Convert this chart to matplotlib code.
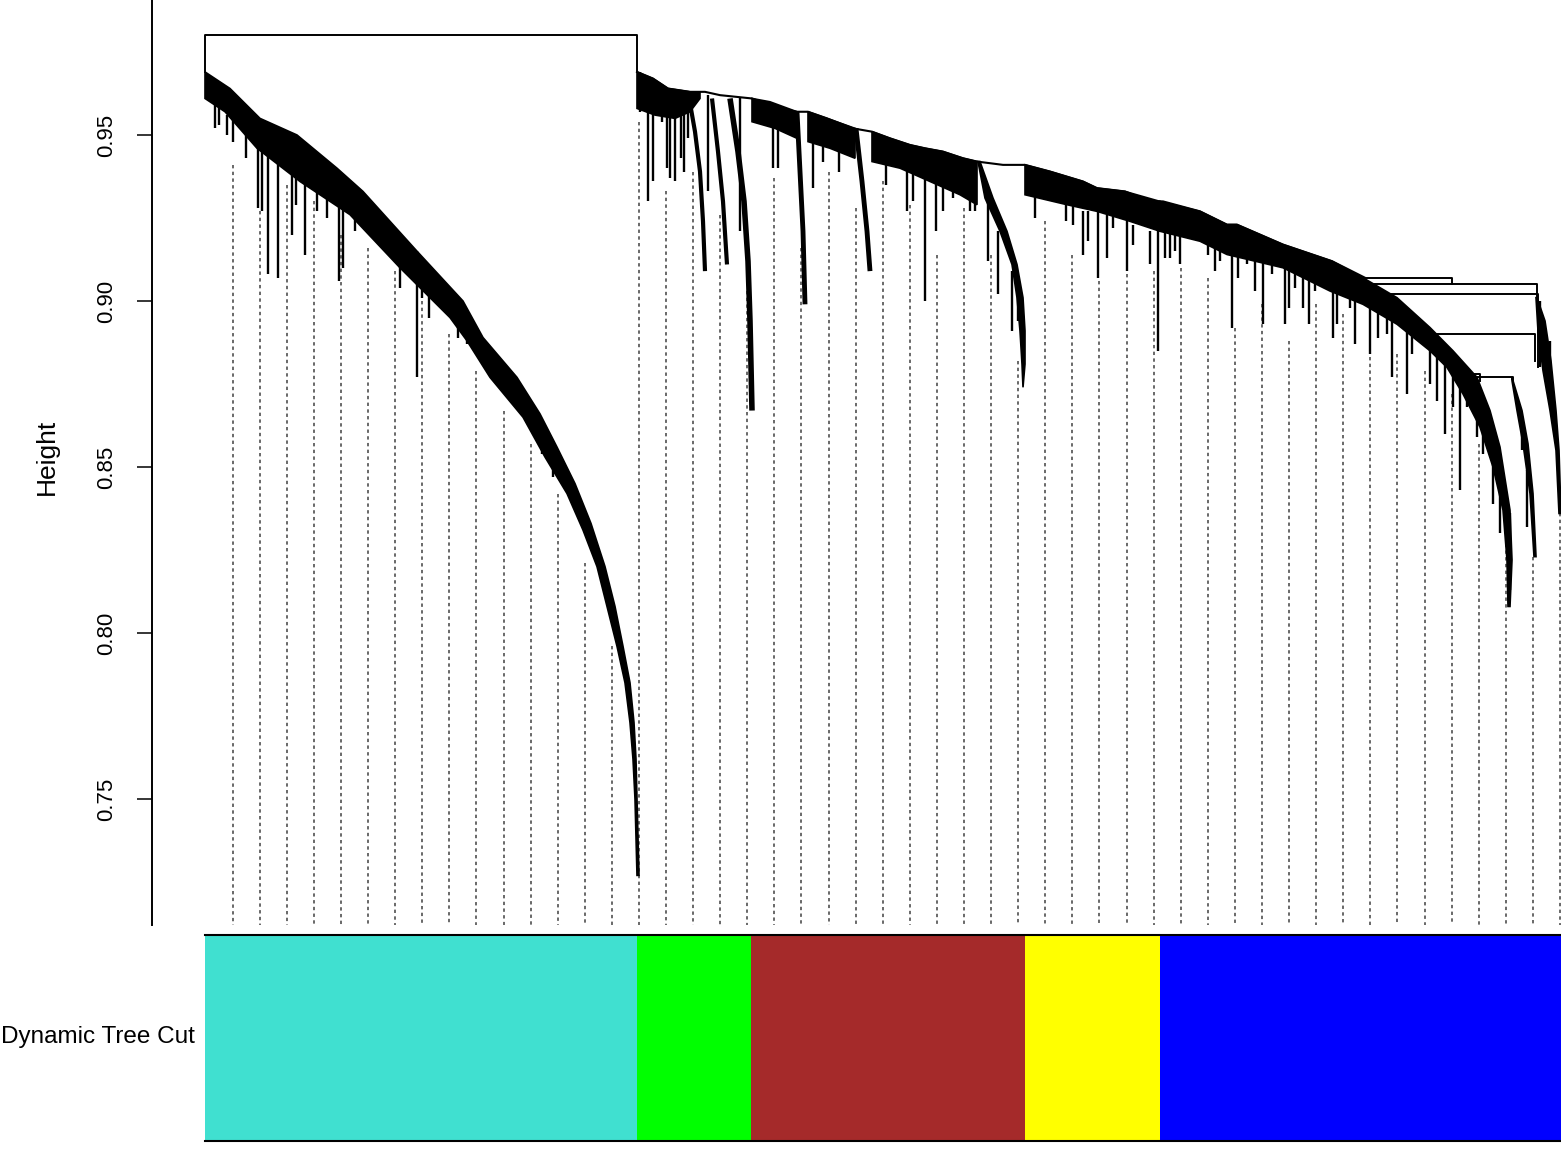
import matplotlib.pyplot as plt

plt.rcParams['font.family'] = ['Liberation Sans', 'DejaVu Sans']

# ---- data ----------------------------------------------------------------
# x = leaf order position (0 .. 1356), y = merge height

module_colors = ["#40E0D0", "#00FF00", "#A52A2A", "#FFFF00", "#0000FF"]
module_edges = [0, 432, 546, 820, 955, 1356]

height_ticks = [0.75, 0.80, 0.85, 0.90, 0.95]

# dense merge "bands": top edge left->right, bottom edge right->left
turq_top_x = [0, 25, 45, 55, 92, 132, 158, 212, 258, 278, 312, 335, 352, 370, 386, 400, 410, 418, 425, 429, 431, 432, 434]
turq_top_h = [0.969, 0.964, 0.958, 0.955, 0.950, 0.940, 0.933, 0.915, 0.900, 0.889, 0.877, 0.866, 0.856, 0.845, 0.833, 0.820, 0.808, 0.796, 0.785, 0.773, 0.762, 0.750, 0.727]
turq_bot_x = [432, 430, 428, 425, 420, 412, 402, 392, 378, 362, 340, 318, 285, 262, 245, 195, 145, 95, 52, 20, 0]
turq_bot_h = [0.727, 0.750, 0.762, 0.773, 0.785, 0.796, 0.808, 0.820, 0.831, 0.842, 0.853, 0.865, 0.877, 0.888, 0.895, 0.910, 0.926, 0.936, 0.946, 0.957, 0.961]

green_top_x = [432, 440, 448, 463, 485, 495]
green_top_h = [0.969, 0.968, 0.967, 0.964, 0.963, 0.963]
green_bot_x = [495, 485, 470, 450, 432]
green_bot_h = [0.961, 0.957, 0.955, 0.956, 0.958]

brown1_top_x = [547, 565, 592]
brown1_top_h = [0.961, 0.960, 0.957]
brown1_bot_x = [592, 570, 547]
brown1_bot_h = [0.949, 0.952, 0.954]

brown2_top_x = [603, 622, 650]
brown2_top_h = [0.957, 0.955, 0.952]
brown2_bot_x = [650, 625, 603]
brown2_bot_h = [0.943, 0.946, 0.948]

brown3_top_x = [667, 685, 705, 720, 738, 758, 772]
brown3_top_h = [0.951, 0.949, 0.947, 0.946, 0.945, 0.943, 0.942]
brown3_bot_x = [772, 755, 725, 695, 667]
brown3_bot_h = [0.929, 0.932, 0.936, 0.940, 0.942]

brown_tail_top_x = [773, 780, 795, 807, 812, 815, 817, 818]
brown_tail_top_h = [0.942, 0.931, 0.921, 0.911, 0.901, 0.891, 0.881, 0.874]
brown_tail_bot_x = [820, 820, 818, 812, 802, 788, 775]
brown_tail_bot_h = [0.881, 0.891, 0.901, 0.911, 0.921, 0.931, 0.942]

yellow_top_x = [820, 845, 878, 892, 920, 955]
yellow_top_h = [0.941, 0.939, 0.936, 0.934, 0.933, 0.930]
yellow_bot_x = [955, 925, 892, 862, 820]
yellow_bot_h = [0.921, 0.924, 0.927, 0.929, 0.932]

blue_top_x = [955, 995, 1022, 1032, 1078, 1127, 1158, 1192, 1225, 1248, 1272, 1285, 1295, 1305, 1307, 1305]
blue_top_h = [0.930, 0.927, 0.923, 0.923, 0.917, 0.912, 0.907, 0.901, 0.892, 0.885, 0.877, 0.867, 0.856, 0.837, 0.822, 0.808]
blue_bot_x = [1303, 1302, 1298, 1288, 1275, 1258, 1242, 1225, 1192, 1158, 1125, 1078, 1022, 995, 955]
blue_bot_h = [0.808, 0.822, 0.837, 0.850, 0.862, 0.872, 0.880, 0.885, 0.893, 0.899, 0.903, 0.910, 0.914, 0.918, 0.921]

blue_tail2_top_x = [1307, 1317, 1323, 1328, 1331]
blue_tail2_top_h = [0.877, 0.867, 0.857, 0.842, 0.823]
blue_tail2_bot_x = [1329, 1325, 1318, 1312, 1307]
blue_tail2_bot_h = [0.823, 0.842, 0.857, 0.867, 0.876]

blue_right_top_x = [1332, 1340, 1346, 1351, 1354, 1356]
blue_right_top_h = [0.901, 0.894, 0.882, 0.867, 0.855, 0.836]
blue_right_bot_x = [1354, 1351, 1345, 1338, 1333, 1331]
blue_right_bot_h = [0.836, 0.855, 0.867, 0.879, 0.891, 0.901]

# staircase of merges along the top of the right-hand cluster
ridge_x = [432, 440, 448, 463, 485, 500, 515, 547, 575, 592, 603, 622, 648, 667, 685, 705, 720, 738, 758, 772,
           798, 820, 845, 878, 892, 920, 945, 958, 995, 1022, 1032, 1078, 1127, 1160]
ridge_h = [0.969, 0.968, 0.967, 0.964, 0.963, 0.963, 0.962, 0.961, 0.958, 0.957, 0.957, 0.955, 0.952, 0.951, 0.949,
           0.947, 0.946, 0.945, 0.943, 0.942, 0.941, 0.941, 0.939, 0.936, 0.934, 0.933, 0.930, 0.930, 0.927, 0.923,
           0.923, 0.917, 0.912, 0.907]

# thin hanging sub-branches (centre lines)
g1_x = [483, 490, 495, 498, 500]
g1_h = [0.963, 0.951, 0.939, 0.924, 0.909]
g2_x = [507, 513, 518, 522]
g2_h = [0.961, 0.945, 0.930, 0.911]
g3_x = [525, 533, 539, 543, 545, 547]
g3_h = [0.961, 0.945, 0.930, 0.912, 0.894, 0.867]
b1_x = [592, 595, 598, 600]
b1_h = [0.957, 0.939, 0.921, 0.899]
b2_x = [651, 657, 662, 665]
b2_h = [0.952, 0.936, 0.921, 0.909]

# single hanging leaves / small clusters
drip_x = [10, 14, 22, 28, 41, 53, 57, 63, 73, 87, 91, 100, 112, 122, 127, 134, 138, 150, 183, 195, 203, 212, 217,
          224, 253, 262, 298, 337, 348,
          435, 443, 448, 457, 462, 465, 470, 476, 479, 483, 503, 535,
          568, 573, 608, 618, 634, 681, 702, 708, 720, 731, 738, 748, 765, 770, 783, 793, 807, 813,
          830, 861, 868, 878, 883, 893, 902, 908, 922, 928, 945, 953,
          960, 965, 970, 975, 1003, 1010, 1015, 1027, 1033, 1042, 1050, 1058, 1067, 1080, 1084, 1090, 1098, 1104,
          1110, 1128, 1132, 1145, 1150, 1165, 1173, 1182, 1187, 1202, 1207, 1225, 1232, 1240, 1248, 1255, 1262,
          1272, 1278, 1288, 1295, 1305, 1317, 1322, 1335, 1345]
drip_top = [0.961, 0.961, 0.956, 0.955, 0.950, 0.954, 0.954, 0.953, 0.952, 0.949, 0.948, 0.945, 0.942, 0.941,
            0.939, 0.938, 0.937, 0.933, 0.923, 0.917, 0.915, 0.915, 0.907, 0.905, 0.894, 0.890, 0.878, 0.859, 0.852,
            0.969, 0.967, 0.966, 0.965, 0.964, 0.964, 0.964, 0.963, 0.963, 0.962, 0.962, 0.961,
            0.955, 0.955, 0.948, 0.947, 0.945, 0.942, 0.941, 0.941, 0.945, 0.938, 0.938, 0.936, 0.932, 0.932, 0.930,
            0.921, 0.909, 0.906,
            0.932, 0.929, 0.929, 0.927, 0.927, 0.933, 0.926, 0.926, 0.924, 0.923, 0.921, 0.929,
            0.924, 0.924, 0.924, 0.923, 0.918, 0.918, 0.917, 0.918, 0.915, 0.914, 0.914, 0.918, 0.912, 0.911, 0.911,
            0.911, 0.909, 0.909, 0.906, 0.905, 0.905, 0.902, 0.900, 0.900, 0.899, 0.897, 0.894, 0.891, 0.890, 0.887,
            0.885, 0.882, 0.879, 0.876, 0.873, 0.870, 0.867, 0.858, 0.849, 0.836, 0.861, 0.849, 0.900, 0.888]
drip_bot = [0.952, 0.953, 0.950, 0.948, 0.943, 0.928, 0.927, 0.908, 0.907, 0.920, 0.929, 0.914, 0.927, 0.925,
            0.931, 0.906, 0.910, 0.921, 0.916, 0.904, 0.908, 0.877, 0.901, 0.895, 0.889, 0.887, 0.874, 0.854, 0.847,
            0.957, 0.930, 0.936, 0.954, 0.940, 0.937, 0.936, 0.943, 0.939, 0.949, 0.933, 0.921,
            0.940, 0.940, 0.934, 0.942, 0.939, 0.935, 0.927, 0.930, 0.900, 0.921, 0.927, 0.931, 0.927, 0.927, 0.912,
            0.902, 0.891, 0.894,
            0.925, 0.924, 0.923, 0.914, 0.918, 0.907, 0.913, 0.922, 0.909, 0.917, 0.911, 0.885,
            0.913, 0.913, 0.915, 0.911, 0.914, 0.909, 0.912, 0.892, 0.907, 0.911, 0.903, 0.893, 0.908, 0.893, 0.898,
            0.904, 0.898, 0.893, 0.903, 0.889, 0.893, 0.898, 0.887, 0.884, 0.889, 0.890, 0.877, 0.872, 0.884, 0.875,
            0.870, 0.860, 0.868, 0.843, 0.868, 0.859, 0.854, 0.839, 0.830, 0.813, 0.855, 0.832, 0.880, 0.872]

# merge brackets: left x, right x, merge height, left leg end, right leg end
bracket_left = [0, 1160, 1165, 1185, 1225, 1262, 1265]
bracket_right = [432, 1247, 1332, 1333, 1330, 1275, 1308]
bracket_h = [0.980, 0.907, 0.905, 0.902, 0.890, 0.878, 0.877]
bracket_left_end = [0.969, 0.907, 0.905, 0.902, 0.890, 0.878, 0.877]
bracket_right_end = [0.969, 0.905, 0.901, 0.880, 0.882, 0.876, 0.876]

# dashed guide lines hanging from every n-th leaf
guide_first = 27.6
guide_step = 27.09
guide_top = [0.941, 0.927, 0.935, 0.930, 0.920, 0.916, 0.909, 0.900, 0.890, 0.879, 0.867, 0.857, 0.842, 0.821,
             0.796, 0.954, 0.933, 0.939, 0.926, 0.903, 0.937, 0.916, 0.939, 0.928, 0.936, 0.929, 0.914, 0.928,
             0.914, 0.882, 0.924, 0.914, 0.906, 0.908, 0.909, 0.910, 0.907, 0.892, 0.899, 0.888, 0.899, 0.896,
             0.883, 0.884, 0.879, 0.872, 0.857, 0.829, 0.823, 0.836]

# ---- figure ---------------------------------------------------------------
fig = plt.figure(figsize=(15.61, 11.49), dpi=100)
ax = fig.add_axes([152 / 1561, 1 - 925 / 1149, 1409 / 1561, 925 / 1149])
cax = fig.add_axes([205 / 1561, 1 - 1141 / 1149, 1356 / 1561, 206 / 1149])

y_low, y_high = 0.71205, 0.99066

# guides
for k, top in enumerate(guide_top):
    gx = guide_first + guide_step * k
    ax.plot([gx, gx], [top, y_low], color='#404040', lw=1.1, dashes=(2.2, 2.2), zorder=1)

bands = [
    (turq_top_x, turq_top_h, turq_bot_x, turq_bot_h),
    (green_top_x, green_top_h, green_bot_x, green_bot_h),
    (brown1_top_x, brown1_top_h, brown1_bot_x, brown1_bot_h),
    (brown2_top_x, brown2_top_h, brown2_bot_x, brown2_bot_h),
    (brown3_top_x, brown3_top_h, brown3_bot_x, brown3_bot_h),
    (brown_tail_top_x, brown_tail_top_h, brown_tail_bot_x, brown_tail_bot_h),
    (yellow_top_x, yellow_top_h, yellow_bot_x, yellow_bot_h),
    (blue_top_x, blue_top_h, blue_bot_x, blue_bot_h),
    (blue_tail2_top_x, blue_tail2_top_h, blue_tail2_bot_x, blue_tail2_bot_h),
    (blue_right_top_x, blue_right_top_h, blue_right_bot_x, blue_right_bot_h),
]
for tx, th, bx, bh in bands:
    ax.fill(tx + bx, th + bh, facecolor='black', edgecolor='black', lw=1.2, zorder=2)

ax.plot(ridge_x, ridge_h, color='black', lw=1.5, zorder=2)

for bx, bh, w in [(g1_x, g1_h, 3.0), (g2_x, g2_h, 3.0), (g3_x, g3_h, 4.0), (b1_x, b1_h, 3.5), (b2_x, b2_h, 3.5)]:
    ax.plot(bx, bh, color='black', lw=w, solid_capstyle='butt', zorder=2)

ax.vlines(drip_x, drip_bot, drip_top, color='black', lw=1.7, zorder=2)

for xl, xr, h, el, er in zip(bracket_left, bracket_right, bracket_h, bracket_left_end, bracket_right_end):
    ax.plot([xl, xl, xr, xr], [el, h, h, er], color='black', lw=1.4, zorder=2)

ax.set_xlim(-53, 1356)
ax.set_ylim(y_low, y_high)
for side in ['top', 'right', 'bottom']:
    ax.spines[side].set_visible(False)
ax.spines['left'].set_linewidth(1.4)
ax.set_xticks([])
ax.set_yticks(height_ticks)
ax.set_yticklabels([f"{t:.2f}" for t in height_ticks], rotation=90, va='center')
ax.tick_params(axis='y', length=11, width=1.1, pad=14, labelsize=16)

fig.text(47 / 1561, 1 - 457 / 1149, "Height", rotation=90, ha='center', va='center', fontsize=19)

# module colour bar
for i, col in enumerate(module_colors):
    cax.bar(module_edges[i], 1, width=module_edges[i + 1] - module_edges[i], bottom=0,
            align='edge', color=col, lw=0)
cax.set_xlim(0, 1356)
cax.set_ylim(0, 1)
cax.axhline(0, color='black', lw=1.5, clip_on=False)
cax.axhline(1, color='black', lw=1.5, clip_on=False)
cax.axis('off')

fig.text(1 / 1561, 1 - 1037 / 1149, "Dynamic Tree Cut", ha='left', va='center', fontsize=17.5)

fig.savefig('out.png', dpi=100)
